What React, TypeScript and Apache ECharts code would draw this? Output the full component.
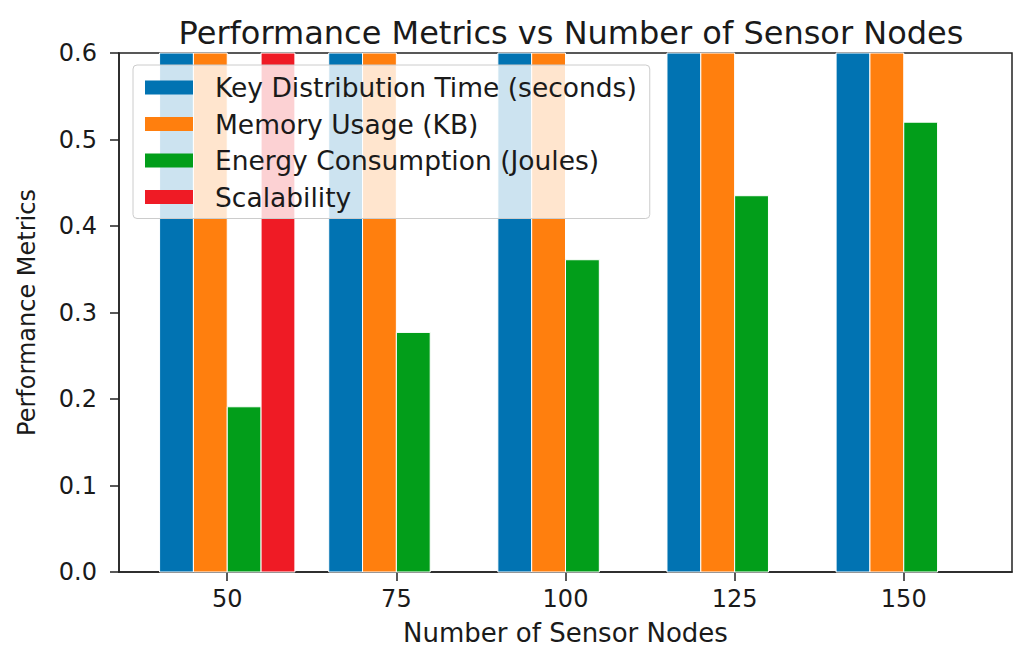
import React, { useEffect, useRef } from "react";
import * as echarts from "echarts";

const nodeCounts = [50, 75, 100, 125, 150];
const keyDistributionTime = [1.2, 1.5, 1.8, 2.1, 2.4];
const memoryUsage = [50, 75, 100, 125, 150];
const energyConsumption = [0.191, 0.277, 0.361, 0.435, 0.52];
const scalability = [1.0, null, null, null, null];
const yTicks = [0, 0.1, 0.2, 0.3, 0.4, 0.5, 0.6];

const seriesNames = [
  "Key Distribution Time (seconds)",
  "Memory Usage (KB)",
  "Energy Consumption (Joules)",
  "Scalability",
];
const seriesColors = ["#0173B2", "#FF7F0E", "#029E1A", "#EF1B25"];
const seriesValues = [keyDistributionTime, memoryUsage, energyConsumption, scalability];

const BAR_W = 5;
const FONT = "DejaVu Sans";
const TXT = "#1a1a1a";

export default function App() {
  const ref = useRef<HTMLDivElement>(null);
  useEffect(() => {
    if (!ref.current) return;
    const chart = echarts.init(ref.current, null, { renderer: "svg" });
    const series = seriesValues.map((vals, si) => {
      const offset = (si - 1.5) * BAR_W;
      return {
        name: seriesNames[si],
        type: "custom",
        itemStyle: { color: seriesColors[si] },
        encode: { x: 0, y: 1 },
        data: nodeCounts.map((n, i) => [n, vals[i] == null ? NaN : vals[i]]),
        renderItem: (params: any, api: any) => {
          const x = api.value(0);
          const v = api.value(1);
          if (isNaN(v)) return null;
          const p0 = api.coord([x + offset - BAR_W / 2, 0]);
          const p1 = api.coord([x + offset + BAR_W / 2, v]);
          const rect = echarts.graphic.clipRectByRect(
            { x: p0[0], y: p1[1], width: p1[0] - p0[0], height: p0[1] - p1[1] },
            params.coordSys
          );
          if (!rect) return null;
          return {
            type: "rect",
            shape: rect,
            style: { fill: api.visual("color"), stroke: "#ffffff", lineWidth: 1 },
          };
        },
      };
    });
    chart.setOption({
      animation: false,
      textStyle: { fontFamily: FONT },
      title: {
        text: "Performance Metrics vs Number of Sensor Nodes",
        left: 566,
        textAlign: "center",
        top: 12,
        textStyle: { fontFamily: FONT, fontSize: 32, fontWeight: "normal", color: TXT },
      },
      grid: {
        left: 119,
        right: 4,
        top: 53,
        bottom: 73,
        show: true,
        borderColor: "#222",
        borderWidth: 1.5,
        backgroundColor: "transparent",
      },
      legend: {
        orient: "vertical",
        left: 133,
        top: 65,
        icon: "rect",
        itemWidth: 48,
        itemHeight: 14,
        itemGap: 9.5,
        padding: [9, 13, 8, 12],
        backgroundColor: "rgba(255,255,255,0.8)",
        borderColor: "#cccccc",
        borderWidth: 1,
        borderRadius: 4,
        textStyle: { fontFamily: FONT, fontSize: 26.5, color: TXT, padding: [0, 0, 0, 17] },
        data: seriesNames,
      },
      xAxis: {
        type: "value",
        min: 34,
        max: 166,
        name: "Number of Sensor Nodes",
        nameLocation: "middle",
        nameGap: 48,
        nameTextStyle: { fontFamily: FONT, fontSize: 26, color: TXT },
        axisLine: { show: true, lineStyle: { color: "#222", width: 1.5 } },
        axisTick: { show: true, customValues: nodeCounts, length: 9, lineStyle: { color: "#222", width: 1.5 } },
        axisLabel: {
          customValues: nodeCounts,
          margin: 15,
          fontFamily: FONT,
          fontSize: 24,
          color: TXT,
        },
        splitLine: { show: false },
      },
      yAxis: {
        type: "value",
        min: yTicks[0],
        max: yTicks[yTicks.length - 1],
        interval: 0.1,
        name: "Performance Metrics",
        nameLocation: "middle",
        nameGap: 80,
        nameTextStyle: { fontFamily: FONT, fontSize: 24, color: TXT },
        axisLine: { show: true, lineStyle: { color: "#222", width: 1.5 } },
        axisTick: { show: true, length: 9, lineStyle: { color: "#222", width: 1.5 } },
        axisLabel: {
          margin: 22,
          fontFamily: FONT,
          fontSize: 24,
          color: TXT,
          padding: [6, 0, 0, 0],
          formatter: (v: number) => v.toFixed(1),
        },
        splitLine: { show: false },
      },
      series,
    });
    return () => chart.dispose();
  }, []);
  return <div ref={ref} style={{ width: 1016, height: 651, position: "absolute", left: 0, top: 0 }} />;
}
